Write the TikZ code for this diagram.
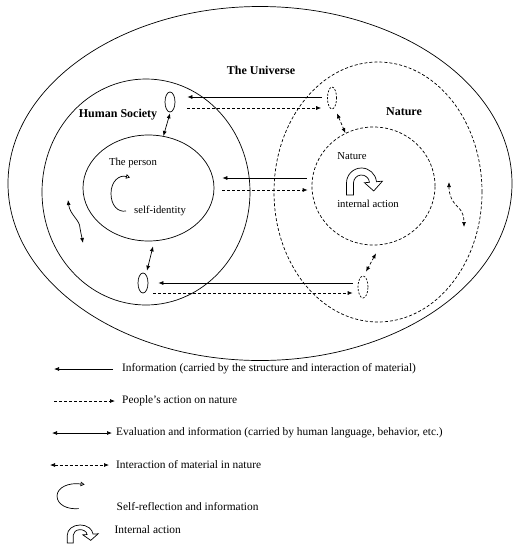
\documentclass[tikz,border=0pt]{standalone}
\usepackage{fontspec}
\setmainfont{Liberation Serif}
\usetikzlibrary{shapes.geometric,arrows.meta,calc}
\tikzset{
  ln/.style={line width=0.7pt},
  dsh/.style={ln, dash pattern=on 3pt off 2pt},
  fdsh/.style={ln, dash pattern=on 2pt off 1.5pt},
  el/.style={ellipse, draw, ln, inner sep=0pt},
  >={Latex[length=5pt,width=4pt]},
  lbl/.style={font=\fontsize{10.7}{12}\selectfont, inner sep=0pt},
  blbl/.style={font=\fontsize{12}{14}\selectfont\bfseries, inner sep=0pt},
  leg/.style={font=\fontsize{11.4}{13}\selectfont, inner sep=0pt, anchor=west},
  selfc/.pic={\draw[ln,-{Triangle[open,length=4pt,width=4.5pt]}] (4,17.5) .. controls (-4,19) and (-11,12) .. (-11,0) .. controls (-11,-12) and (-3,-19) .. (8,-16);},
  iact/.pic={\draw[ln,fill=white] (-15,12) -- (-15,0) arc[start angle=180,end angle=355,radius=15] -- (20.92,-1.83) -- (12.24,7.97) -- (2.99,-0.26) -- (7.97,-0.70) arc[start angle=355,end angle=180,radius=8] -- (-8,12) -- cycle;}
}
\begin{document}
\begin{tikzpicture}[x=1pt,y=-1pt]
\useasboundingbox (0,0) rectangle (521,550);
% big shapes
\node[el, minimum width=504pt, minimum height=354pt] (uni) at (260,183.5) {};
\node[el, minimum width=208pt, minimum height=226pt] (hs) at (146,192) {};
\node[el, minimum width=131pt, minimum height=106pt] (person) at (148.5,188) {};
\node[el, dsh, minimum width=208pt, minimum height=260pt] (nat) at (378,192) {};
\node[el, dsh, minimum width=123pt, minimum height=118pt] (inat) at (373.5,186) {};
% small ellipses
\node[el, minimum width=10pt, minimum height=20pt] (stop) at (170,102) {};
\node[el, fdsh, minimum width=9pt, minimum height=22pt] (ntop) at (332,98) {};
\node[el, minimum width=10pt, minimum height=20pt] (sbot) at (143,283) {};
\node[el, fdsh, minimum width=10pt, minimum height=22pt] (nbot) at (363,287) {};
% labels
\node[blbl] (tu) at (261,70) {The Universe};
\node[blbl] (hsl) at (118,115) {Human Society};
\node[blbl] (natl) at (404,112) {Nature};
\node[lbl] (tp) at (133,163) {The person};
\node[lbl] (sid) at (160,211) {self-identity};
\node[lbl] (natn) at (352,156) {Nature};
\node[lbl] (ia) at (368,204) {internal action};
% icons
\pic at (122,193.5) {selfc};
\pic at (361.5,183) {iact};
% horizontal arrows
\draw[ln,->] ($(ntop.west)+(-5,-1)$) -- ($(stop.east)+(12,-5)$);
\draw[dsh,->] ($(stop.east)+(12,6)$) -- ($(ntop.west)+(-6,10)$);
\draw[ln,->] ($(inat.west)+(-5,-8)$) -- ($(person.east)+(8,-10)$);
\draw[dsh,->] ($(person.east)+(8,2)$) -- ($(inat.west)+(-4,4)$);
\draw[ln,->] ($(nbot.west)+(-5,-4)$) -- ($(sbot.east)+(10,0)$);
\draw[dsh,->] ($(sbot.east)+(5,10)$) -- ($(nbot.west)+(-5,6)$);
% double arrows
\draw[ln,<->] ($(stop.south)+(0,1)$) -- (person.74);
\draw[ln,<->] ($(person.south)+(4.5,5)$) -- ($(sbot.north)+(4,-2)$);
\draw[dsh,<->] ($(ntop.south)+(5,4)$) -- (inat.118);
\draw[dsh,<->] ($(inat.south)+(2.5,8)$) -- ($(nbot.north)+(3,-4)$);
% wavy arrows
\coordinate (w1a) at (68,200); \coordinate (w1b) at (83,243);
\draw[ln,<->] (w1a) .. controls (70,215) and (80,220) .. (80,228) .. controls (81,234) and (82,238) .. (w1b);
\coordinate (w2a) at (449,182); \coordinate (w2b) at (464,227);
\draw[dsh,<->] (w2a) .. controls (449,195) and (452,202) .. (459,208) .. controls (463,212) and (464,218) .. (w2b);
% legend
\coordinate (l1a) at (113,369); \coordinate (l1b) at (54,369);
\draw[ln,->] (l1a) -- (l1b);
\node[leg] (t1) at (122,369) {Information (carried by the structure and interaction of material)};
\coordinate (l2a) at (54,401); \coordinate (l2b) at (115,401);
\draw[dsh,->] (l2a) -- (l2b);
\node[leg] (t2) at (122,401) {People’s action on nature};
\coordinate (l3a) at (52,433); \coordinate (l3b) at (112,433);
\draw[ln,<->] (l3a) -- (l3b);
\node[leg] (t3) at (116,433) {Evaluation and information (carried by human language, behavior, etc.)};
\coordinate (l4a) at (50,465); \coordinate (l4b) at (109,465);
\draw[dsh,<->] (l4a) -- (l4b);
\node[leg] (t4) at (116,465) {Interaction of material in nature};
\pic[xscale=1.45,yscale=0.72] at (73,496) {selfc};
\node[leg] (t5) at (116.5,507) {Self-reflection and information};
\pic[xscale=0.86,yscale=0.67] at (80.2,535) {iact};
\node[leg] (t6) at (114.5,530) {Internal action};
\end{tikzpicture}
\end{document}
